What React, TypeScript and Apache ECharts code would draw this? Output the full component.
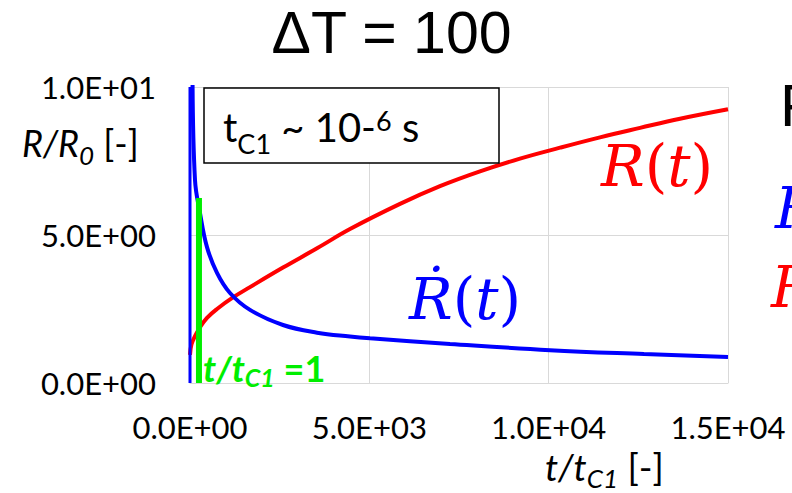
import React, { useEffect, useRef } from "react";
import * as echarts from "echarts";

// Axis ticks
const xTicks = [0, 5000, 10000, 15000];
const yTicks = [0, 5, 10];

// R(t)/R0 against t/tC1
const radiusT = [0, 40, 139, 279, 474, 753, 1199, 1673, 2593, 3541, 4461, 5855, 6970, 8085, 9200, 10316, 11431, 12547, 13662, 15000];
const radiusV = [0.95, 1.3, 1.58, 1.88, 2.2, 2.5, 2.89, 3.24, 3.9, 4.55, 5.2, 6.05, 6.65, 7.15, 7.58, 7.95, 8.3, 8.62, 8.93, 9.25];

// Growth rate dR/dt against t/tC1
const rateT = [70, 139, 279, 474, 753, 1115, 1673, 2593, 3541, 4461, 5019, 7249, 10037, 12658, 15000];
const rateV = [10.5, 6.86, 5.74, 4.59, 3.72, 3.04, 2.47, 1.96, 1.7, 1.57, 1.51, 1.32, 1.11, 0.98, 0.88];

// Start-up spike of dR/dt at t = 0
const spikeT = [0, 0];
const spikeV = [0, 10];

// Marker at t/tC1 = 1
const markerT = [250, 250];
const markerV = [0, 6.25];

const zip = (xs: number[], ys: number[]) => xs.map((x, i) => [x, ys[i]]);

const sci = (v: number) => {
  if (v === 0) return "0.0E+00";
  const e = Math.floor(Math.log10(Math.abs(v)) + 1e-9);
  const m = v / Math.pow(10, e);
  return `${m.toFixed(1)}E${e < 0 ? "-" : "+"}${String(Math.abs(e)).padStart(2, "0")}`;
};

const SANS = "Lato, 'Noto Sans', sans-serif";
const SERIF = "'DejaVu Serif', serif";
const ARIAL = "'Liberation Sans', Arial, sans-serif";

type Part = {
  text: string;
  size: number;
  family?: string;
  italic?: boolean;
  bold?: boolean;
  dy?: number;
  color?: string;
};

let measureCtx: CanvasRenderingContext2D | null = null;
const fontOf = (p: Part) =>
  `${p.italic ? "italic" : "normal"} ${p.bold ? "bold" : "normal"} ${p.size}px ${p.family || SANS}`;
const measure = (p: Part) => {
  if (!measureCtx) measureCtx = document.createElement("canvas").getContext("2d");
  measureCtx!.font = fontOf(p);
  return measureCtx!.measureText(p.text).width;
};

// Lays out a run of text pieces side by side, each one vertically centred at y + dy
const row = (x0: number, y: number, parts: Part[], color = "#000", z = 20) => {
  let x = x0;
  return parts.map((p) => {
    const el = {
      type: "text",
      x,
      y: y + (p.dy || 0),
      z,
      style: {
        text: p.text,
        fontSize: p.size,
        fontFamily: p.family || SANS,
        fontStyle: p.italic ? "italic" : "normal",
        fontWeight: p.bold ? "bold" : "normal",
        fill: p.color || color,
        align: "left",
        verticalAlign: "middle",
      },
    };
    x += measure(p);
    return el;
  });
};

const mathLabel = (x: number, y: number, head: string, color: string, size = 58) =>
  row(
    x,
    y,
    [
      { text: head, size, family: SERIF, italic: true },
      { text: "(", size, family: SERIF },
      { text: "t", size, family: SERIF, italic: true },
      { text: ")", size, family: SERIF },
    ],
    color
  );

export default function App() {
  const ref = useRef<HTMLDivElement>(null);

  useEffect(() => {
    if (!ref.current) return;
    const chart = echarts.init(ref.current, null, { renderer: "svg" });

    const gridColor = "#d9d9d9";
    const graphic: any[] = [
      {
        type: "text",
        x: 391.5,
        y: 33,
        z: 20,
        style: {
          text: "\u0394T = 100",
          fontSize: 59,
          fontFamily: ARIAL,
          fill: "#000",
          align: "center",
          verticalAlign: "middle",
        },
      },
      {
        type: "rect",
        z: 15,
        shape: { x: 204, y: 88, width: 295, height: 75 },
        style: { fill: "#fff", stroke: "#000", lineWidth: 1.5 },
      },
      ...row(223, 127, [
        { text: "t", size: 40 },
        { text: "C1", size: 27, dy: 16 },
        { text: " ~ 10-", size: 40 },
        { text: "6", size: 27, dy: -7 },
        { text: " s", size: 40 },
      ]),
      ...mathLabel(601, 166, "R", "#ff0000"),
      ...mathLabel(409, 299, "\u1E58", "#0000ff"),
      ...row(
        203,
        368,
        [
          { text: "t/t", size: 36, italic: true, bold: true },
          { text: "C1", size: 25, italic: true, bold: true, dy: 9 },
          { text: " =1", size: 36, bold: true },
        ],
        "#00ee00",
        25
      ),
      ...row(22, 143, [
        { text: "R/R", size: 36, italic: true },
        { text: "0", size: 26, italic: true, dy: 12 },
        { text: " [-]", size: 36 },
      ]),
      ...row(545, 466, [
        { text: "t/t", size: 37, italic: true },
        { text: "C1", size: 26, italic: true, dy: 12 },
        { text: " [-]", size: 37 },
      ]),
      {
        type: "text",
        x: 780,
        y: 105,
        z: 20,
        style: {
          text: "F",
          fontSize: 60,
          fontFamily: ARIAL,
          fill: "#000",
          align: "left",
          verticalAlign: "middle",
        },
      },
      ...row(775, 208, [{ text: "\u1E58", size: 58, family: SERIF, italic: true }], "#0000ff"),
      ...row(771, 287, [{ text: "R", size: 58, family: SERIF, italic: true }], "#ff0000"),
    ];

    chart.setOption({
      animation: false,
      backgroundColor: "#fff",
      grid: {
        left: 190,
        top: 87,
        right: 64,
        bottom: 110,
        containLabel: false,
        outerBoundsMode: "none",
      },
      xAxis: {
        type: "value",
        min: xTicks[0],
        max: xTicks[xTicks.length - 1],
        interval: xTicks[1] - xTicks[0],
        axisLine: { show: true, lineStyle: { color: gridColor, width: 1 } },
        axisTick: { show: false },
        splitLine: { show: true, lineStyle: { color: gridColor, width: 1 } },
        axisLabel: {
          formatter: sci,
          fontFamily: SANS,
          fontSize: 31,
          color: "#000",
          margin: 28,
        },
      },
      yAxis: {
        type: "value",
        min: yTicks[0],
        max: yTicks[yTicks.length - 1],
        interval: yTicks[1] - yTicks[0],
        axisLine: { show: true, lineStyle: { color: gridColor, width: 1 } },
        axisTick: { show: false },
        splitLine: { show: true, lineStyle: { color: gridColor, width: 1 } },
        axisLabel: {
          formatter: sci,
          fontFamily: SANS,
          fontSize: 31,
          color: "#000",
          margin: 34,
        },
      },
      series: [
        {
          name: "R(t)",
          type: "line",
          data: zip(radiusT, radiusV),
          symbol: "none",
          smooth: 0.4,
          lineStyle: { color: "#ff0000", width: 4 },
          z: 2,
        },
        {
          name: "spike",
          type: "line",
          data: zip(spikeT, spikeV),
          symbol: "none",
          lineStyle: { color: "#0000ff", width: 3 },
          z: 3,
        },
        {
          name: "dR/dt",
          type: "line",
          data: zip(rateT, rateV),
          symbol: "none",
          smooth: 0.4,
          lineStyle: { color: "#0000ff", width: 4 },
          z: 3,
        },
        {
          name: "t/tC1 = 1",
          type: "line",
          data: zip(markerT, markerV),
          symbol: "none",
          lineStyle: { color: "#00ee00", width: 6 },
          z: 4,
        },
      ],
      graphic,
    });

    return () => chart.dispose();
  }, []);

  return (
    <div
      ref={ref}
      style={{ position: "fixed", left: 0, top: 0, width: 792, height: 493, background: "#fff" }}
    />
  );
}
